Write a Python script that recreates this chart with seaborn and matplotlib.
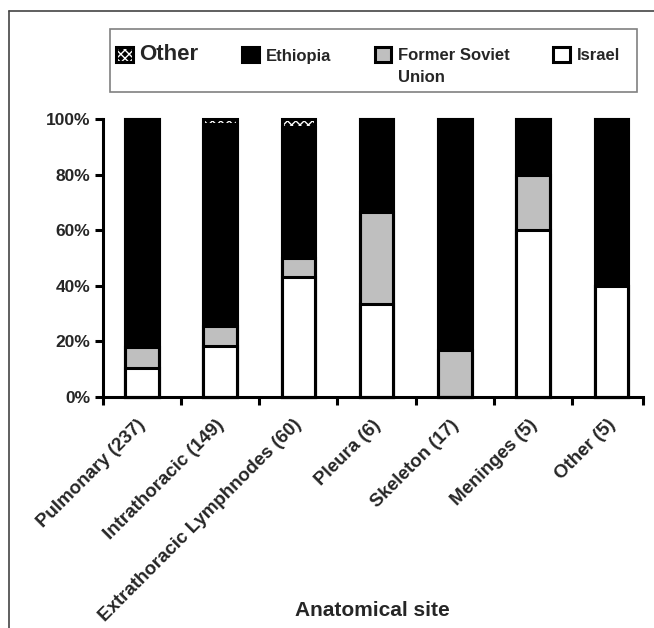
import matplotlib
matplotlib.use('Agg')
import matplotlib.pyplot as plt
import seaborn as sns
import pandas as pd
from matplotlib.patches import Patch, Rectangle
from matplotlib.lines import Line2D
from matplotlib.legend_handler import HandlerTuple
from matplotlib.transforms import ScaledTranslation

# ------------------------------------------------------------
# DATA (percent of cases per anatomical site, by origin)
# ------------------------------------------------------------
sites = ['Pulmonary (237)', 'Intrathoracic (149)',
         'Extrathoracic Lymphnodes (60)', 'Pleura (6)',
         'Skeleton (17)', 'Meninges (5)', 'Other (5)']
israel = [10.5, 18.5, 43.3, 33.3, 0.0, 60.0, 40.0]
fsu = [7.5, 7.0, 6.7, 33.3, 17.0, 20.0, 0.0]
ethiopia = [82.0, 72.7, 47.3, 33.4, 83.0, 20.0, 60.0]
other = [0.0, 1.8, 2.7, 0.0, 0.0, 0.0, 0.0]
y_ticks = [0, 20, 40, 60, 80, 100]

df = pd.DataFrame({'site': sites, 'israel': israel, 'fsu': fsu,
                   'ethiopia': ethiopia, 'other': other})
df['lvl_israel'] = df['israel']
df['lvl_fsu'] = df['lvl_israel'] + df['fsu']
df['lvl_eth'] = df['lvl_fsu'] + df['ethiopia']
df['lvl_other'] = df['lvl_eth'] + df['other']

# ------------------------------------------------------------
# STYLE
# ------------------------------------------------------------
sns.set_theme(style='white')
plt.rcParams['font.family'] = ['Liberation Sans', 'DejaVu Sans']
plt.rcParams['font.weight'] = 'bold'
plt.rcParams['hatch.linewidth'] = 1.0

W, H = 654, 628
fig = plt.figure(figsize=(W / 100, H / 100), dpi=100)
fig.patch.set_facecolor('white')
ax = fig.add_axes([102.7 / W, 1 - 397 / H, 540 / W, 278 / H])

LW = 2.2
GREY = '#bfbfbf'
bar_kw = dict(x='site', width=0.43, saturation=1, errorbar=None, ax=ax)

# stacked bars drawn as cumulative layers, tallest first
sns.barplot(data=df, y='lvl_other', color='black', edgecolor='white',
            hatch='xxxx', linewidth=0, **bar_kw)
sns.barplot(data=df, y='lvl_eth', color='black', edgecolor='black',
            linewidth=LW, **bar_kw)
sns.barplot(data=df, y='lvl_fsu', color=GREY, edgecolor='black',
            linewidth=LW, **bar_kw)
sns.barplot(data=df, y='lvl_israel', color='white', edgecolor='black',
            linewidth=LW, **bar_kw)
sns.barplot(data=df, y='lvl_other', fill=False, color='black',
            linewidth=LW, **bar_kw)

for p in ax.patches:
    p.set_clip_on(False)

# ------------------------------------------------------------
# AXES
# ------------------------------------------------------------
ax.set_xlim(-0.5, 6.4)
ax.set_ylim(0, 100)
ax.set_xlabel('')
ax.set_ylabel('')
for s in ['top', 'right']:
    ax.spines[s].set_visible(False)
for s in ['left', 'bottom']:
    ax.spines[s].set_linewidth(LW)
    ax.spines[s].set_color('black')

ax.set_yticks(y_ticks)
ax.set_yticklabels([f'{v}%' for v in y_ticks], fontsize=12.5,
                   fontweight='bold')
ax.tick_params(axis='y', length=6, width=LW, direction='out',
               color='black', pad=3, left=True)

ax.set_xticks(range(len(sites)))
ax.set_xticklabels(sites, rotation=45, ha='right', rotation_mode='anchor',
                   fontsize=13.5, fontweight='bold')
ax.tick_params(axis='x', which='major', length=0, pad=14)
shift = ScaledTranslation(-5 / 100, 0, fig.dpi_scale_trans)
for lbl in ax.get_xticklabels():
    lbl.set_transform(lbl.get_transform() + shift)
ax.set_xticks([i - 0.5 for i in range(len(sites))] + [6.4], minor=True)
ax.tick_params(axis='x', which='minor', length=6, width=LW,
               direction='out', color='black', bottom=True)

fig.text(372 / W, 1 - 610 / H, 'Anatomical site', ha='center',
         va='center', fontsize=15, fontweight='bold')

# ------------------------------------------------------------
# LEGEND
# ------------------------------------------------------------
handles = [
    (Patch(facecolor='black', edgecolor='white', hatch='xxxx', linewidth=0),
     Patch(facecolor='none', edgecolor='black', linewidth=LW)),
    Patch(facecolor='black', edgecolor='black', linewidth=LW),
    Patch(facecolor=GREY, edgecolor='black', linewidth=LW),
    Patch(facecolor='white', edgecolor='black', linewidth=LW),
]
labels = ['Other', 'Ethiopia', 'Former Soviet', 'Israel']
leg = fig.legend(handles, labels, loc='center',
                 bbox_to_anchor=(116 / W, 1 - 70 / H, 504 / W, 30 / H),
                 mode='expand', ncol=4, frameon=False, borderpad=0,
                 borderaxespad=0, handlelength=1.0, handleheight=1.0,
                 handletextpad=0.4, prop={'size': 12, 'weight': 'bold'},
                 handler_map={tuple: HandlerTuple(ndivide=1, pad=0)})
leg.get_texts()[0].set_fontsize(16)

fig.add_artist(Rectangle((110 / W, 1 - 92 / H), 527 / W, 63 / H,
                         transform=fig.transFigure, fill=False,
                         edgecolor='#808080', linewidth=1.2))

# second line of the "Former Soviet Union" label
fig.canvas.draw()
bb = leg.get_texts()[2].get_window_extent()
x0, yc = fig.transFigure.inverted().transform((bb.x0, (bb.y0 + bb.y1) / 2))
fig.text(x0, yc - 22 / H, 'Union', ha='left', va='center', fontsize=12,
         fontweight='bold')

# outer frame (top and left edges)
fig.add_artist(Line2D([9 / W, 9 / W], [0, 1 - 11 / H],
                      transform=fig.transFigure, color='#444444', lw=1.2))
fig.add_artist(Line2D([9 / W, 1], [1 - 11 / H, 1 - 11 / H],
                      transform=fig.transFigure, color='#444444', lw=1.2))

fig.savefig('out.png', dpi=100, facecolor='white')
plt.close()
